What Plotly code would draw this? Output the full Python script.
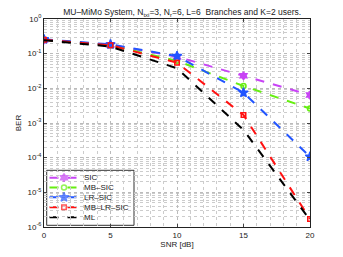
import plotly.graph_objects as go

snr = [0, 5, 10, 15, 20]
ber_sic = [0.25, 0.18, 0.082, 0.023, 0.0064]
ber_mb_sic = [0.25, 0.175, 0.062, 0.0117, 0.0026]
ber_lr_sic = [0.26, 0.185, 0.085, 0.0075, 0.000107]
ber_mb_lr_sic = [0.25, 0.175, 0.055, 0.0017, 1.7e-6]
ber_ml = [0.245, 0.16, 0.038, 0.00063, 1.6e-6]

names = ["SIC", "MB\u2013SIC", "LR\u2013SIC", "MB\u2013LR\u2013SIC", "ML"]
ytick_vals = [1, 1e-1, 1e-2, 1e-3, 1e-4, 1e-5, 1e-6]
ytick_text = ["10<sup>0</sup>", "10<sup>-1</sup>", "10<sup>-2</sup>", "10<sup>-3</sup>",
              "10<sup>-4</sup>", "10<sup>-5</sup>", "10<sup>-6</sup>"]
xtick_vals = [0, 5, 10, 15, 20]

series = [
    (ber_sic, "#C844F5", "hexagram", 6),
    (ber_mb_sic, "#66EE11", "circle-open", 5),
    (ber_lr_sic, "#2255FF", "star", 7),
    (ber_mb_lr_sic, "#FF1111", "square-open", 4.5),
    (ber_ml, "#000000", None, 0),
]

# the page body has an 8px margin, so the figure is sized to fit the 343x257 window
OFF = 8
W, H = 343 - OFF, 257 - OFF
PX0, PX1, PY0, PY1 = 44, 310, 19, 227  # plot area in window pixels
L, R, T, B = PX0 - OFF, W - (PX1 - OFF), PY0 - OFF, H - (PY1 - OFF)
PW, PH = PX1 - PX0, PY1 - PY0


def px(x):
    return (x - PX0) / PW


def py(y):
    return (PY1 - y) / PH


fig = go.Figure()
for (vals, col, sym, sz), nm in zip(series, names):
    if sym is None:
        fig.add_trace(go.Scatter(x=snr, y=vals, name=nm, mode="lines", showlegend=False,
                                 line=dict(color=col, width=2, dash="dash")))
    else:
        fig.add_trace(go.Scatter(x=snr, y=vals, name=nm, mode="lines+markers", showlegend=False,
                                 line=dict(color=col, width=2, dash="dash"),
                                 marker=dict(symbol=sym, size=sz, color=col,
                                             line=dict(color=col, width=1.5))))

font = "Liberation Sans, Arial, sans-serif"

# manual compact legend (MATLAB style)
shapes = [dict(type="rect", xref="paper", yref="paper",
               x0=px(46.7), x1=px(134), y0=py(225.3), y1=py(170.3),
               line=dict(color="#333", width=1), fillcolor="white", layer="between")]
annotations = []
row_y = [177.7, 187.5, 197.3, 207.3, 217.3]
mk_x, mk_y, mk_sym, mk_col, mk_sz = [], [], [], [], []
for (vals, col, sym, sz), nm, ry in zip(series, names, row_y):
    shapes.append(dict(type="line", xref="paper", yref="paper",
                       x0=px(49.5), x1=px(77.5), y0=py(ry), y1=py(ry),
                       line=dict(color=col, width=2, dash="dash"), layer="between"))
    annotations.append(dict(text=nm, xref="paper", yref="paper", x=px(82), y=py(ry),
                            xanchor="left", yanchor="middle", showarrow=False,
                            font=dict(size=8, family=font, color="#222")))
    if sym is not None:
        mk_x.append(px(64)); mk_y.append(py(ry)); mk_sym.append(sym)
        mk_col.append(col); mk_sz.append(sz)

fig.add_trace(go.Scatter(x=mk_x, y=mk_y, mode="markers", xaxis="x2", yaxis="y2",
                         showlegend=False, hoverinfo="skip",
                         marker=dict(symbol=mk_sym, size=mk_sz, color=mk_col,
                                     line=dict(color=mk_col, width=1.5))))

fig.update_layout(
    width=W, height=H,
    margin=dict(l=L, r=R, t=T, b=B),
    paper_bgcolor="white", plot_bgcolor="white",
    font=dict(family=font, size=8, color="#222"),
    title=dict(text="MU\u2013MiMo System, N<sub>txi</sub>=3, N<sub>r</sub>=6, L=6  Branches and K=2 users.",
               x=0.52, xanchor="center", y=0.995, yanchor="top",
               font=dict(size=8.5, family=font, color="#222"), automargin=False),
    showlegend=False,
    shapes=shapes,
    annotations=annotations,
    xaxis=dict(range=[0, 20], tickvals=xtick_vals, ticks="inside", ticklen=3,
               showline=True, linecolor="#222", linewidth=1, mirror="ticks",
               showgrid=True, gridcolor="#bbb", griddash="dot", gridwidth=1,
               minor=dict(dtick=1, showgrid=True, gridcolor="#ccc", griddash="dot"),
               zeroline=False, automargin=False,
               title=dict(text="SNR [dB]", standoff=2, font=dict(size=8))),
    yaxis=dict(type="log", range=[-6, 0], tickvals=ytick_vals, ticktext=ytick_text,
               ticks="inside", ticklen=3,
               showline=True, linecolor="#222", linewidth=1, mirror="ticks",
               showgrid=True, gridcolor="#bbb", griddash="dot", gridwidth=1,
               minor=dict(dtick="D1", showgrid=True, gridcolor="#ccc", griddash="dot"),
               zeroline=False, automargin=False,
               title=dict(text="BER", standoff=4, font=dict(size=8))),
    xaxis2=dict(overlaying="x", range=[0, 1], visible=False, anchor="y2"),
    yaxis2=dict(overlaying="y", range=[0, 1], visible=False, anchor="x2"),
)

fig.write_html("out.html")
